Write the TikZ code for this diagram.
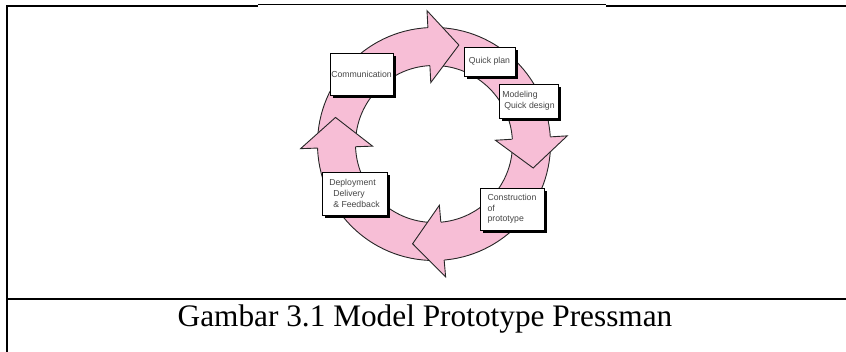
\documentclass[tikz,border=0pt]{standalone}
\usepackage{fontspec}
\setmainfont{Liberation Serif}
\newfontfamily\stagefont{Liberation Sans}
\usetikzlibrary{shadows}
\definecolor{ringpink}{RGB}{247,190,214}
\definecolor{stagetext}{RGB}{70,70,70}

\begin{document}
\begin{tikzpicture}
[x=1pt, y=-1pt, line width=0.9pt,
frame/.style={line width=2pt},
ring/.style={fill=ringpink, draw=black!85},
stage/.style={rectangle, draw, fill=white, line width=0.8pt, inner sep=0pt, align=left,
  font=\stagefont\fontsize{8.7}{10.7}\selectfont, text=stagetext,
  drop shadow={shadow xshift=3pt, shadow yshift=-3pt, fill=black, opacity=1}}]

\useasboundingbox (0,0) rectangle (846,352);

% cell frame
\draw[frame] (7,352) -- (7,6) -- (258,6);
\draw[line width=1pt] (258,5) -- (606,5);
\draw[frame] (606,6) -- (846,6);
\draw[frame] (7,299) -- (846,299);

% ring
\fill[ringpink, even odd rule] (434,144) circle [radius=116.5pt] (434,144) circle [radius=78.5pt];
\draw[black!85] (434,144) circle [radius=116.5pt];
\draw[black!85] (434,144) circle [radius=78.5pt];

% heads
\filldraw[ring] (427.90,27.66) -- (427.01,10.68) -- (458.86,45.06) -- (430.78,82.58) -- (429.89,65.61);
\filldraw[ring] (550.28,136.89) -- (567.25,135.85) -- (533.15,167.99) -- (495.39,140.25) -- (512.35,139.21);
\filldraw[ring] (444.15,260.06) -- (445.64,276.99) -- (412.61,243.74) -- (439.36,205.27) -- (440.84,222.20);
\filldraw[ring] (317.57,148.07) -- (300.58,148.66) -- (335.51,117.42) -- (372.54,146.15) -- (355.55,146.74);

% stages
\node[stage, minimum width=63pt, minimum height=42pt] (comm) at (361.5,74) {Communication};
\node[stage, minimum width=51pt, minimum height=29pt] (plan) at (489.5,61.5) {Quick plan};
\node[stage, minimum width=59pt, minimum height=34pt] (model) at (528.5,101) {Modeling\\\hspace*{2pt}Quick design};
\node[stage, minimum width=64pt, minimum height=42pt] (construct) at (512,209) {Construction\\of\\prototype};
\node[stage, minimum width=65pt, minimum height=43pt] (deploy) at (354.5,193.5) {Deployment\\\hspace*{4pt}Delivery\\\hspace*{4pt}\& Feedback};

\node[font=\fontsize{31.3}{36}\selectfont] (caption) at (425,319) {Gambar 3.1 Model Prototype Pressman};
\end{tikzpicture}
\end{document}
